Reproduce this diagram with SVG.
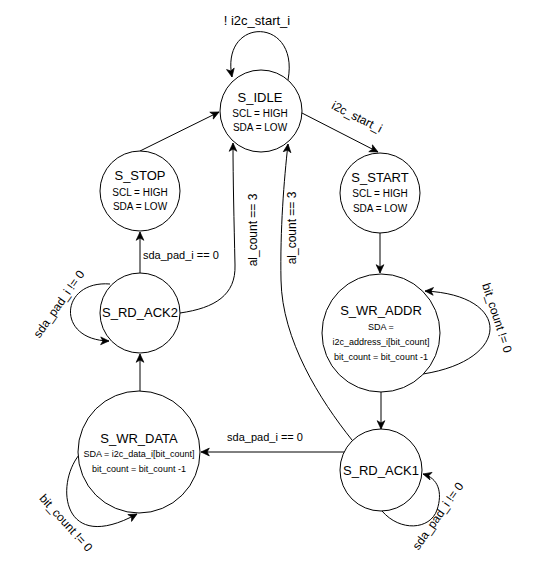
<svg xmlns="http://www.w3.org/2000/svg" width="557" height="576" viewBox="0 0 557 576">
  <style>
    .state { fill: #ffffff; stroke: #000000; stroke-width: 1; }
    .title { font-family: "Liberation Sans", Arial, Helvetica, sans-serif; font-size: 13px; fill: #000000; text-anchor: middle; }
    .sub { font-family: "Liberation Sans", Arial, Helvetica, sans-serif; font-size: 10px; fill: #000000; text-anchor: middle; }
    .small { font-family: "Liberation Sans", Arial, Helvetica, sans-serif; font-size: 9px; fill: #000000; text-anchor: middle; }
    .edge { fill: none; stroke: #000000; stroke-width: 1; marker-end: url(#arrow); }
    .lbl { font-family: "Liberation Sans", Arial, Helvetica, sans-serif; font-size: 12px; fill: #000000; text-anchor: middle; }
    .lbl11 { font-family: "Liberation Sans", Arial, Helvetica, sans-serif; font-size: 11px; fill: #000000; }
  </style>
  <defs>
    <marker id="arrow" markerUnits="userSpaceOnUse" markerWidth="10" markerHeight="10" viewBox="-8 -4 9 8" refX="0" refY="0" orient="auto">
      <path d="M -7.5 -3.5 L 0 0 L -7.5 3.5 L -5.5 0 Z" fill="#000000" stroke="#000000" stroke-width="0.6" stroke-linejoin="miter"/>
    </marker>
  </defs>
  <rect x="0" y="0" width="557" height="576" fill="#ffffff"/>

  <!-- transitions -->
  <g id="connectors">
    <!-- S_IDLE waits while no start -->
    <path class="edge" d="M 288 80 C 300 16, 220 16, 232 77"/>
    <text class="lbl" x="257" y="25" style="font-size:13px">! i2c_start_i</text>
    <!-- S_IDLE -> S_START -->
    <path class="edge" d="M 300 112 L 378 152"/>
    <text class="lbl" transform="translate(357 117) rotate(26.6)" dy="4">i2c_start_i</text>
    <!-- S_START -> S_WR_ADDR -->
    <path class="edge" d="M 380 233 L 380 273"/>
    <!-- S_WR_ADDR loop -->
    <path class="edge" d="M 423 374 C 512 360, 512 295, 425 291"/>
    <text class="lbl" transform="translate(497 318) rotate(72)" dy="4">bit_count != 0</text>
    <!-- S_WR_ADDR -> S_RD_ACK1 -->
    <path class="edge" d="M 381 392 L 381 429"/>
    <!-- S_RD_ACK1 -> S_WR_DATA -->
    <path class="edge" d="M 344 452 L 201 452"/>
    <text class="lbl11" x="265" y="441" text-anchor="middle">sda_pad_i == 0</text>
    <!-- S_RD_ACK1 loop -->
    <path class="edge" d="M 382 511 C 400 532, 430 530, 437 510 C 443 492, 438 478, 423 474"/>
    <text class="lbl" transform="translate(438 516) rotate(-55)" dy="4">sda_pad_i != 0</text>
    <!-- S_RD_ACK1 -> S_IDLE -->
    <path class="edge" d="M 352 440 C 320 400, 282 340, 281 280 C 280 230, 284 180, 288 144"/>
    <text class="lbl" transform="translate(292 228) rotate(-90)" dy="4">al_count == 3</text>
    <!-- S_RD_ACK2 -> S_IDLE -->
    <path class="edge" d="M 180 313 C 215 308, 236 295, 235 265 C 234 220, 233 180, 233 143"/>
    <text class="lbl" transform="translate(253 230) rotate(-90)" dy="4">al_count == 3</text>
    <!-- S_RD_ACK2 -> S_STOP -->
    <path class="edge" d="M 140 273 L 140 232"/>
    <text class="lbl11" x="143" y="259">sda_pad_i == 0</text>
    <!-- S_RD_ACK2 loop -->
    <path class="edge" d="M 110 284 C 60 280, 55 340, 109 341"/>
    <text class="lbl" transform="translate(59 304) rotate(-55)" dy="4">sda_pad_i != 0</text>
    <!-- S_WR_DATA -> S_RD_ACK2 -->
    <path class="edge" d="M 140 391 L 140 354"/>
    <!-- S_WR_DATA loop -->
    <path class="edge" d="M 79 455 C 55 485, 62 555, 137 514"/>
    <text class="lbl" transform="translate(66 523) rotate(48)" dy="4">bit_count != 0</text>
    <!-- S_STOP -> S_IDLE -->
    <path class="edge" d="M 140 151 L 219 112"/>
  </g>

  <!-- states -->
  <g id="s_idle">
    <circle class="state" cx="261" cy="111" r="41"/>
    <text class="title" x="260" y="101.5">S_IDLE</text>
    <text class="sub" x="260" y="116.5">SCL = HIGH</text>
    <text class="sub" x="260" y="130.5">SDA = LOW</text>
  </g>
  <g id="s_start">
    <circle class="state" cx="380" cy="193" r="40"/>
    <text class="title" x="380" y="181.5">S_START</text>
    <text class="sub" x="380" y="196.5">SCL = HIGH</text>
    <text class="sub" x="380" y="211.5">SDA = LOW</text>
  </g>
  <g id="s_stop">
    <circle class="state" cx="140" cy="191" r="40"/>
    <text class="title" x="140" y="179.5">S_STOP</text>
    <text class="sub" x="140" y="195.5">SCL = HIGH</text>
    <text class="sub" x="140" y="209.5">SDA = LOW</text>
  </g>
  <g id="s_wr_addr">
    <circle class="state" cx="381" cy="333" r="59"/>
    <text class="title" x="381" y="314.5">S_WR_ADDR</text>
    <text class="small" x="381" y="330">SDA =</text>
    <text class="small" x="381" y="345">i2c_address_i[bit_count]</text>
    <text class="small" x="381" y="360">bit_count = bit_count -1</text>
  </g>
  <g id="s_rd_ack1">
    <circle class="state" cx="381" cy="470" r="41"/>
    <text class="title" x="381" y="474.5">S_RD_ACK1</text>
  </g>
  <g id="s_rd_ack2">
    <circle class="state" cx="140" cy="313" r="40"/>
    <text class="title" x="140" y="316.5">S_RD_ACK2</text>
  </g>
  <g id="s_wr_data">
    <circle class="state" cx="139" cy="452" r="61"/>
    <text class="title" x="139" y="442.5">S_WR_DATA</text>
    <text class="small" x="139" y="457">SDA = i2c_data_i[bit_count]</text>
    <text class="small" x="139" y="472">bit_count = bit_count -1</text>
  </g>
</svg>
